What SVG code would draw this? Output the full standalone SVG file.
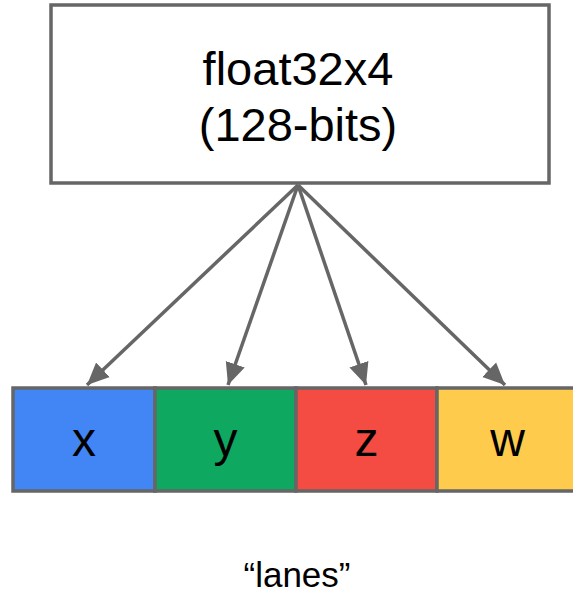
<svg xmlns="http://www.w3.org/2000/svg" width="573" height="594" viewBox="0 0 573 594">
<style>
.box{stroke:#666;stroke-width:3.5}
.t{font-family:"Liberation Sans",Arial,sans-serif;fill:#000;text-anchor:middle}
.c{stroke:#666;stroke-width:3.5;fill:none}
</style>
<defs>
<marker id="ah" markerUnits="userSpaceOnUse" markerWidth="24" markerHeight="24" viewBox="0 0 24 24" refX="22" refY="12" orient="auto">
<path d="M0,2 L22,12 L0,22 Z" fill="#666"/>
</marker>
</defs>
<rect width="573" height="594" fill="#fff"/>
<g id="float32x4">
<rect class="box" x="51" y="5" width="498" height="178" fill="#fff"/>
<text class="t" x="298" y="85" font-size="47">float32x4</text>
<text class="t" x="298" y="141" font-size="47">(128-bits)</text>
</g>
<g id="connectors">
<line class="c" x1="298" y1="185" x2="87" y2="385" marker-end="url(#ah)"/>
<line class="c" x1="298" y1="185" x2="228" y2="385" marker-end="url(#ah)"/>
<line class="c" x1="298" y1="185" x2="366" y2="385" marker-end="url(#ah)"/>
<line class="c" x1="298" y1="185" x2="505" y2="385" marker-end="url(#ah)"/>
</g>
<g id="lane-x">
<rect class="box" x="13" y="388" width="142" height="103" fill="#4285f4"/>
<text class="t" x="84" y="456" font-size="48">x</text>
</g>
<g id="lane-y">
<rect class="box" x="155" y="388" width="141" height="103" fill="#0fa860"/>
<text class="t" x="225.5" y="456" font-size="48">y</text>
</g>
<g id="lane-z">
<rect class="box" x="296" y="388" width="141" height="103" fill="#f44b42"/>
<text class="t" x="366.5" y="456" font-size="48">z</text>
</g>
<g id="lane-w">
<rect class="box" x="437" y="388" width="141" height="103" fill="#fecb4d"/>
<text class="t" x="507.5" y="456" font-size="48">w</text>
</g>
<g id="label">
<text class="t" x="297" y="587" font-size="35">“lanes”</text>
</g>
</svg>
